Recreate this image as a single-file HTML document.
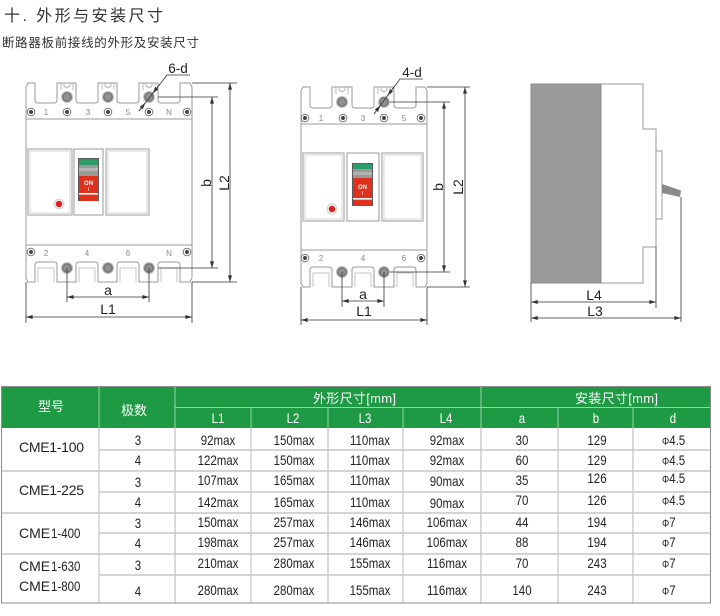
<!DOCTYPE html>
<html><head><meta charset="utf-8">
<style>
html,body{margin:0;padding:0;background:#fff;}
svg{display:block;}
text{font-family:"Liberation Sans","Noto Sans CJK SC",sans-serif;}
</style></head><body>
<svg width="720" height="616" viewBox="0 0 720 616" xmlns="http://www.w3.org/2000/svg">
<defs>
<marker id="ar" viewBox="0 0 8 6" refX="8" refY="3" markerWidth="7" markerHeight="5" markerUnits="userSpaceOnUse" orient="auto-start-reverse"><path d="M0,0.6 L8,3 L0,5.4 z" fill="#333"/></marker>
<g id="bs"><circle r="6" fill="#c4c4c4"/><circle r="5" fill="#7a7a7a"/><circle r="3.2" fill="#929292"/></g>
<g id="ss"><circle r="3.8" fill="#fff" stroke="#777" stroke-width="1"/><circle r="2" fill="#444"/></g>
<g id="nt"><path d="M-6,0 L-6,7 M6,0 L6,7 M-3,0 L-3,3 L0,5 L3,3 L3,0" fill="none" stroke="#aaa" stroke-width="0.8"/></g>
</defs>

<!-- Titles -->
<text x="4" y="21" font-size="16" fill="#333" textLength="159">十. 外形与安装尺寸</text>
<text x="2" y="47" font-size="12.5" fill="#333" textLength="197">断路器板前接线的外形及安装尺寸</text>

<!-- ================= 4-pole ================= -->
<g fill="none" stroke="#9a9a9a" stroke-width="1">
<path d="M26,119 L26,87 L28,83 L35,83 L35,100 Q35,103 38,103 L54,103 Q57,103 57,100 L57,83 L76,83 L76,100 Q76,103 79,103 L95,103 Q98,103 98,100 L98,83 L117,83 L117,100 Q117,103 120,103 L136,103 Q139,103 139,100 L139,83 L158,83 L158,100 Q158,103 161,103 L177,103 Q180,103 180,100 L180,83 L190,83 L192,87 L192,119"/>
<path d="M26,119 L192,119 M26,119 L26,245 M192,119 L192,245 M26,245 L192,245"/>
<path d="M26,245 L26,278 L28,282 L35,282 L35,265 Q35,262 38,262 L54,262 Q57,262 57,265 L57,282 L76,282 L76,265 Q76,262 79,262 L95,262 Q98,262 98,265 L98,282 L117,282 L117,265 Q117,262 120,262 L136,262 Q139,262 139,265 L139,282 L158,282 L158,265 Q158,262 161,262 L177,262 Q180,262 180,265 L180,282 L190,282 L192,278 L192,245"/>
<path stroke="#c4c4c4" d="M38,282 L38,268 L54,268 L54,282 M79,282 L79,268 L95,268 L95,282 M120,282 L120,268 L136,268 L136,282 M161,282 L161,268 L177,268 L177,282"/>
<rect x="28" y="149" width="44" height="66"/>
<rect x="74" y="149" width="29" height="66"/>
<rect x="106" y="149" width="43" height="66"/>
<rect x="30" y="151" width="40" height="62" stroke="#d4d4d4"/>
<rect x="108" y="151" width="39" height="62" stroke="#d4d4d4"/>
</g>
<use href="#nt" x="67" y="83"/><use href="#nt" x="108" y="83"/><use href="#nt" x="149" y="83"/>
<use href="#bs" x="67" y="97"/><use href="#bs" x="108" y="97"/><use href="#bs" x="149" y="97"/>
<use href="#bs" x="67" y="268"/><use href="#bs" x="108" y="268"/><use href="#bs" x="149" y="268"/>
<use href="#ss" x="31" y="112"/><use href="#ss" x="67" y="112"/><use href="#ss" x="108" y="112"/><use href="#ss" x="149" y="112"/><use href="#ss" x="187" y="112"/>
<use href="#ss" x="31" y="252"/><use href="#ss" x="187" y="252"/>
<g font-size="8" fill="#888" text-anchor="middle">
<text x="46" y="115">1</text><text x="88" y="115">3</text><text x="128" y="115">5</text><text x="169" y="115">N</text>
<text x="46" y="256">2</text><text x="87" y="256">4</text><text x="128" y="256">6</text><text x="169" y="256">N</text>
</g>
<!-- handle 4p -->
<rect x="78" y="158" width="21" height="43" fill="#5a5a5a"/>
<rect x="79" y="159" width="19" height="6" fill="#2d9d68"/>
<rect x="79" y="165" width="19" height="11" fill="#9a9a9a"/>
<rect x="79" y="168" width="19" height="3" fill="#b4b4b4"/>
<rect x="79" y="176" width="19" height="25" fill="#e0301e"/>
<rect x="79" y="193" width="19" height="1.6" fill="#fff"/>
<text x="88.5" y="185" font-size="6" font-weight="bold" fill="#fff" text-anchor="middle">ON</text>
<text x="88.5" y="191" font-size="5" fill="#fff" text-anchor="middle">I</text>
<circle cx="59" cy="204" r="5" fill="#eee" stroke="#ccc" stroke-width="0.8"/><circle cx="59" cy="204" r="3.2" fill="#e02020"/>
<!-- dims 4p -->
<g stroke="#333" stroke-width="0.8" fill="none">
<path d="M26,282 L26,323 M192,282 L192,323 M67,268 L67,302 M149,268 L149,302"/>
<path d="M158,97 L218,97 M158,268 L218,268 M192,83 L237,83 M192,282 L237,282"/>
<line x1="67" y1="297" x2="149" y2="297" marker-start="url(#ar)" marker-end="url(#ar)"/>
<line x1="26" y1="317" x2="192" y2="317" marker-start="url(#ar)" marker-end="url(#ar)"/>
<line x1="212" y1="97" x2="212" y2="268" marker-start="url(#ar)" marker-end="url(#ar)"/>
<line x1="230" y1="83" x2="230" y2="282" marker-start="url(#ar)" marker-end="url(#ar)"/>
<path d="M190,75 L167,75 L139,111"/>
<line x1="160" y1="84" x2="152.7" y2="93.4" marker-end="url(#ar)"/>
<line x1="139" y1="111" x2="145.3" y2="102.8" marker-end="url(#ar)"/>
</g>
<g font-size="14" fill="#222" text-anchor="middle">
<text x="108" y="295">a</text>
<text x="108" y="314">L1</text>
<text transform="translate(211 183) rotate(-90)">b</text>
<text transform="translate(229 183) rotate(-90)">L2</text>
<text x="178" y="73" font-size="13.5">6-d</text>
</g>

<!-- ================= 3-pole ================= -->
<g fill="none" stroke="#9a9a9a" stroke-width="1">
<path d="M301,124 L301,91 L303,87 L310,87 L310,105 Q310,108 313,108 L329,108 Q332,108 332,105 L332,87 L352,87 L352,105 Q352,108 355,108 L371,108 Q374,108 374,105 L374,87 L394,87 L394,105 Q394,108 397,108 L413,108 Q416,108 416,105 L416,87 L425,87 L427,91 L427,124"/>
<path d="M301,124 L427,124 M301,124 L301,250 M427,124 L427,250 M301,250 L427,250"/>
<path d="M301,250 L301,283 L303,287 L310,287 L310,270 Q310,267 313,267 L329,267 Q332,267 332,270 L332,287 L352,287 L352,270 Q352,267 355,267 L371,267 Q374,267 374,270 L374,287 L394,287 L394,270 Q394,267 397,267 L413,267 Q416,267 416,270 L416,287 L425,287 L427,283 L427,250"/>
<path stroke="#c4c4c4" d="M313,287 L313,273 L329,273 L329,287 M355,287 L355,273 L371,273 L371,287 M397,287 L397,273 L413,273 L413,287"/>
<rect x="303" y="153" width="41" height="68"/>
<rect x="347" y="153" width="32" height="68"/>
<rect x="382" y="153" width="41" height="68"/>
<rect x="305" y="155" width="37" height="64" stroke="#d4d4d4"/>
<rect x="384" y="155" width="37" height="64" stroke="#d4d4d4"/>
</g>
<use href="#nt" x="342" y="87"/><use href="#nt" x="384" y="87"/>
<use href="#bs" x="342" y="102"/><use href="#bs" x="384" y="102"/>
<use href="#bs" x="342" y="272"/><use href="#bs" x="384" y="272"/>
<use href="#ss" x="305" y="118"/><use href="#ss" x="343" y="118"/><use href="#ss" x="384" y="118"/><use href="#ss" x="421" y="118"/>
<use href="#ss" x="305" y="258"/><use href="#ss" x="421" y="258"/>
<g font-size="8" fill="#888" text-anchor="middle">
<text x="321" y="121">1</text><text x="363" y="121">3</text><text x="404" y="121">5</text>
<text x="321" y="261">2</text><text x="363" y="261">4</text><text x="404" y="261">6</text>
</g>
<!-- handle 3p -->
<rect x="352" y="163" width="21" height="43" fill="#5a5a5a"/>
<rect x="353" y="164" width="19" height="5" fill="#2d9d68"/>
<rect x="353" y="169" width="19" height="9" fill="#9a9a9a"/>
<rect x="353" y="172" width="19" height="3" fill="#b4b4b4"/>
<rect x="353" y="178" width="19" height="28" fill="#e0301e"/>
<rect x="353" y="198" width="19" height="1.6" fill="#fff"/>
<text x="362.5" y="189" font-size="6" font-weight="bold" fill="#fff" text-anchor="middle">ON</text>
<text x="362.5" y="195" font-size="5" fill="#fff" text-anchor="middle">I</text>
<circle cx="332" cy="209" r="5" fill="#eee" stroke="#ccc" stroke-width="0.8"/><circle cx="332" cy="209" r="3.2" fill="#e02020"/>
<!-- dims 3p -->
<g stroke="#333" stroke-width="0.8" fill="none">
<path d="M301,287 L301,325 M427,287 L427,325 M342,272 L342,307 M384,272 L384,307"/>
<path d="M390,102 L450,102 M390,272 L450,272 M427,87 L470,87 M427,287 L470,287"/>
<line x1="342" y1="301" x2="384" y2="301" marker-start="url(#ar)" marker-end="url(#ar)"/>
<line x1="301" y1="320" x2="427" y2="320" marker-start="url(#ar)" marker-end="url(#ar)"/>
<line x1="444" y1="102" x2="444" y2="272" marker-start="url(#ar)" marker-end="url(#ar)"/>
<line x1="465" y1="87" x2="465" y2="287" marker-start="url(#ar)" marker-end="url(#ar)"/>
<path d="M423,79 L400,79 L374,114"/>
<line x1="394" y1="87" x2="387.6" y2="95.7" marker-end="url(#ar)"/>
<line x1="374" y1="114" x2="380.4" y2="105.3" marker-end="url(#ar)"/>
</g>
<g font-size="14" fill="#222" text-anchor="middle">
<text x="363" y="299">a</text>
<text x="364" y="316">L1</text>
<text transform="translate(443 187) rotate(-90)">b</text>
<text transform="translate(463 187) rotate(-90)">L2</text>
<text x="412" y="77" font-size="13.5">4-d</text>
</g>

<!-- ================= side view ================= -->
<rect x="531" y="84" width="70" height="199" fill="#9b9b9b" stroke="#8a8a8a"/>
<path d="M601,84 L643,84 L643,129 L656,129 L656,247 L643,247 L643,283 L601,283" fill="none" stroke="#999"/>
<rect x="656" y="151" width="6" height="68" fill="#fff" stroke="#999"/>
<polygon points="662,184 681,190.5 680,197 662,193" fill="#8a8a8a"/>
<g stroke="#333" stroke-width="0.8" fill="none">
<path d="M531,283 L531,322 M656,247 L656,308 M681,197 L681,322"/>
<line x1="531" y1="302" x2="656" y2="302" marker-start="url(#ar)" marker-end="url(#ar)"/>
<line x1="531" y1="318" x2="681" y2="318" marker-start="url(#ar)" marker-end="url(#ar)"/>
</g>
<g font-size="14" fill="#222" text-anchor="middle">
<text x="594" y="300">L4</text>
<text x="595" y="316">L3</text>
</g>

<!-- ================= table ================= -->
<rect x="1" y="386" width="709" height="42" fill="#1f9a44"/>
<g stroke="rgba(255,255,255,0.55)" stroke-width="1">
<path d="M99,386 L99,428 M175,386 L175,428 M481,386 L481,428 M175,407.5 L710,407.5 M251,407 L251,428 M328,407 L328,428 M403,407 L403,428 M558,407 L558,428 M633,407 L633,428"/>
</g>
<g stroke="#b4b4b4" stroke-width="1">
<path d="M99,428 L99,603 M175,428 L175,603 M251,428 L251,603 M328,428 L328,603 M403,428 L403,603 M481,428 L481,603 M558,428 L558,603 M633,428 L633,603"/>
</g>
<g stroke="#c6c6c6" stroke-width="1.5">
<path d="M99,450 L710,450 M1,471 L710,471 M99,492 L710,492 M1,513 L710,513 M99,533 L710,533 M1,554 L710,554 M99,575 L710,575"/>
</g>
<rect x="1.5" y="386.5" width="709" height="216.5" fill="none" stroke="#8c8c8c" stroke-width="1"/>

<!-- header text -->
<g fill="#fff" font-size="13">
<text x="51" y="411" text-anchor="middle">型号</text>
<text x="134" y="415" text-anchor="middle">极数</text>
<text x="313" y="403" textLength="83">外形尺寸[mm]</text>
<text x="575" y="403" textLength="83">安装尺寸[mm]</text>
</g>
<g fill="#fff" font-size="14" text-anchor="middle">
<text transform="translate(218 423) scale(.82 1)">L1</text>
<text transform="translate(293 423) scale(.82 1)">L2</text>
<text transform="translate(365 423) scale(.82 1)">L3</text>
<text transform="translate(446 423) scale(.82 1)">L4</text>
<text transform="translate(522 423) scale(.82 1)">a</text>
<text transform="translate(596 423) scale(.82 1)">b</text>
<text transform="translate(673 423) scale(.82 1)">d</text>
</g>

<!-- model names -->
<g fill="#222" font-size="14">
<text x="19" y="452" textLength="65">CME1-100</text>
<text x="19" y="495" textLength="65">CME1-225</text>
<text x="19" y="538">CME</text><text transform="translate(51 538) scale(.82 1)">1-400</text>
<text x="19" y="571">CME</text><text transform="translate(51 571) scale(.82 1)">1-630</text>
<text x="19" y="591">CME</text><text transform="translate(51 591) scale(.82 1)">1-800</text>
</g>

<!-- data -->
<g fill="#222" font-size="14" text-anchor="middle">
<!-- row1 -->
<text transform="translate(138 445) scale(.82 1)">3</text>
<text transform="translate(218 445) scale(.82 1)">92max</text>
<text transform="translate(294 445) scale(.82 1)">150max</text>
<text transform="translate(370 445) scale(.82 1)">110max</text>
<text transform="translate(447 445) scale(.82 1)">92max</text>
<text transform="translate(522 445) scale(.82 1)">30</text>
<text transform="translate(597 445) scale(.82 1)">129</text>
<!-- row2 -->
<text transform="translate(138 465) scale(.82 1)">4</text>
<text transform="translate(218 465) scale(.82 1)">122max</text>
<text transform="translate(294 465) scale(.82 1)">150max</text>
<text transform="translate(370 465) scale(.82 1)">110max</text>
<text transform="translate(447 465) scale(.82 1)">92max</text>
<text transform="translate(522 465) scale(.82 1)">60</text>
<text transform="translate(597 465) scale(.82 1)">129</text>
<!-- row3 -->
<text transform="translate(138 487) scale(.82 1)">3</text>
<text transform="translate(218 485) scale(.82 1)">107max</text>
<text transform="translate(294 485) scale(.82 1)">165max</text>
<text transform="translate(370 485) scale(.82 1)">110max</text>
<text transform="translate(447 486) scale(.82 1)">90max</text>
<text transform="translate(522 485) scale(.82 1)">35</text>
<text transform="translate(597 483) scale(.82 1)">126</text>
<!-- row4 -->
<text transform="translate(138 507) scale(.82 1)">4</text>
<text transform="translate(218 507) scale(.82 1)">142max</text>
<text transform="translate(294 507) scale(.82 1)">165max</text>
<text transform="translate(370 507) scale(.82 1)">110max</text>
<text transform="translate(447 508) scale(.82 1)">90max</text>
<text transform="translate(522 505) scale(.82 1)">70</text>
<text transform="translate(597 505) scale(.82 1)">126</text>
<!-- row5 -->
<text transform="translate(138 528) scale(.82 1)">3</text>
<text transform="translate(218 527) scale(.82 1)">150max</text>
<text transform="translate(294 527) scale(.82 1)">257max</text>
<text transform="translate(370 527) scale(.82 1)">146max</text>
<text transform="translate(447 527) scale(.82 1)">106max</text>
<text transform="translate(522 527) scale(.82 1)">44</text>
<text transform="translate(597 527) scale(.82 1)">194</text>
<!-- row6 -->
<text transform="translate(138 548) scale(.82 1)">4</text>
<text transform="translate(218 547) scale(.82 1)">198max</text>
<text transform="translate(294 547) scale(.82 1)">257max</text>
<text transform="translate(370 547) scale(.82 1)">146max</text>
<text transform="translate(447 547) scale(.82 1)">106max</text>
<text transform="translate(522 547) scale(.82 1)">88</text>
<text transform="translate(597 547) scale(.82 1)">194</text>
<!-- row7 -->
<text transform="translate(138 570) scale(.82 1)">3</text>
<text transform="translate(218 568) scale(.82 1)">210max</text>
<text transform="translate(294 568) scale(.82 1)">280max</text>
<text transform="translate(370 568) scale(.82 1)">155max</text>
<text transform="translate(447 568) scale(.82 1)">116max</text>
<text transform="translate(522 568) scale(.82 1)">70</text>
<text transform="translate(597 568) scale(.82 1)">243</text>
<!-- row8 -->
<text transform="translate(138 596) scale(.82 1)">4</text>
<text transform="translate(218 595) scale(.82 1)">280max</text>
<text transform="translate(294 595) scale(.82 1)">280max</text>
<text transform="translate(370 595) scale(.82 1)">155max</text>
<text transform="translate(447 595) scale(.82 1)">116max</text>
<text transform="translate(522 595) scale(.82 1)">140</text>
<text transform="translate(597 595) scale(.82 1)">243</text>
</g>
<g fill="#222" font-size="14">
<text transform="translate(662 445) scale(.82 1)"><tspan font-size="11">Φ</tspan>4.5</text>
<text transform="translate(662 465) scale(.82 1)"><tspan font-size="11">Φ</tspan>4.5</text>
<text transform="translate(662 483) scale(.82 1)"><tspan font-size="11">Φ</tspan>4.5</text>
<text transform="translate(662 505) scale(.82 1)"><tspan font-size="11">Φ</tspan>4.5</text>
<text transform="translate(662 527) scale(.82 1)"><tspan font-size="11">Φ</tspan>7</text>
<text transform="translate(662 547) scale(.82 1)"><tspan font-size="11">Φ</tspan>7</text>
<text transform="translate(662 568) scale(.82 1)"><tspan font-size="11">Φ</tspan>7</text>
<text transform="translate(662 595) scale(.82 1)"><tspan font-size="11">Φ</tspan>7</text>
</g>
</svg>
</body></html>
